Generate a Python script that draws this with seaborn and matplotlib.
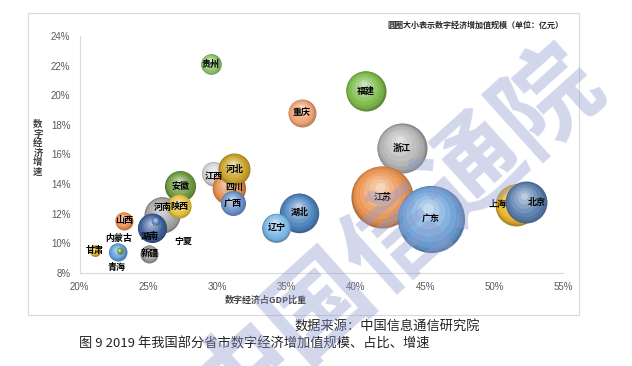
import matplotlib
matplotlib.use("Agg")
import matplotlib.pyplot as plt
import matplotlib.colors as mcolors
from matplotlib.patches import Rectangle
from matplotlib.transforms import offset_copy
import seaborn as sns
import pandas as pd
import numpy as np

# ---- data ----
provinces = ["福建", "浙江", "江苏", "广东", "重庆", "湖北", "辽宁", "贵州",
             "江西", "四川", "河北", "广西", "安徽", "河南", "陕西", "湖南",
             "宁夏", "山西", "内蒙古", "青海", "甘肃", "新疆", "上海", "北京"]
share = [40.7, 43.3, 41.9, 45.4, 36.1, 35.9, 34.25, 29.5,
         29.7, 30.8, 31.2, 31.1, 27.3, 26.0, 27.2, 25.25,
         25.5, 23.2, 22.75, 22.9, 21.1, 25.05, 51.6, 52.3]          # 数字经济占GDP比重 %
growth = [20.3, 16.4, 13.1, 11.65, 18.8, 12.05, 11.05, 22.1,
          14.7, 13.7, 15.0, 12.7, 13.85, 11.9, 12.5, 11.05,
          11.5, 11.5, 9.4, 9.5, 9.5, 9.27, 12.6, 12.75]             # 数字经济增速 %
scale = [16000, 25000, 38500, 45000, 7800, 15500, 8200, 4200,
         5800, 10900, 10200, 6200, 9600, 13000, 5800, 8400,
         640, 3200, 3200, 360, 1200, 3200, 17500, 17500]            # 亿元

x_ticks = [20, 25, 30, 35, 40, 45, 50, 55]
y_ticks = [8, 10, 12, 14, 16, 18, 20, 22, 24]

# ---- styles ----
colors = {
    "福建": "#7dbb4c", "浙江": "#b4b4b4", "江苏": "#ec9552", "广东": "#6ea3d8",
    "重庆": "#eda274", "湖北": "#4d83bd", "辽宁": "#7cb8e6", "贵州": "#8dc46a",
    "江西": "#d2d2d2", "四川": "#e48e4c", "河北": "#c9a22a", "广西": "#6d93cc",
    "安徽": "#6c9a3e", "河南": "#a5a5a5", "陕西": "#e3c13e", "湖南": "#3d5f98",
    "宁夏": "#5a86c0", "山西": "#ec8f4e", "内蒙古": "#5e9fd9", "青海": "#6fa63c",
    "甘肃": "#e3b52c", "新疆": "#9a9a9a", "上海": "#e9b62d", "北京": "#5b7fae",
}
label_offsets = {  # points
    "河南": (0, 5.5), "湖南": (-1.5, -6), "内蒙古": (0.7, 10), "青海": (-2, -12.5),
    "宁夏": (20, -14.5), "上海": (-13.5, 0), "北京": (8, 0), "江西": (0, -2),
    "四川": (4, 0.5),
}

VMAX = 45000
SMAX = 2340  # marker area (pt^2) for VMAX

# (radius fraction, dx, dy in radius units, shade)
layers = [(1.00, 0.00, 0.00, -0.26), (0.96, -0.02, 0.03, -0.15),
          (0.90, -0.04, 0.06, -0.06), (0.80, -0.06, 0.10, 0.03),
          (0.66, -0.08, 0.15, 0.16), (0.50, -0.09, 0.20, 0.30),
          (0.33, -0.09, 0.26, 0.44), (0.16, -0.08, 0.33, 0.60)]


def shade(c, t):
    rgb = np.array(mcolors.to_rgb(c))
    if t < 0:
        return tuple(rgb * (1 + t))
    return tuple(rgb + (1 - rgb) * t)


sns.set_style("white")
plt.rcParams["font.family"] = ["Liberation Sans", "Noto Sans CJK SC", "DejaVu Sans"]
CJK = ["Noto Sans CJK SC", "DejaVu Sans"]

df = pd.DataFrame({"province": provinces, "share": share, "growth": growth, "scale": scale})

fig = plt.figure(figsize=(6.32, 3.66), dpi=100)
ax = fig.add_axes([0.1258, 0.2549, 0.7655, 0.6467])

for i, row in df.iterrows():
    one = df.iloc[[i]]
    r_pt = np.sqrt(row["scale"] / VMAX * SMAX) / 2
    for rf, dx, dy, t in layers:
        tr = offset_copy(ax.transData, fig=fig, x=dx * r_pt, y=dy * r_pt, units="points")
        sns.scatterplot(data=one, x="share", y="growth", size="scale",
                        sizes=(0, SMAX * rf ** 2), size_norm=(0, VMAX),
                        color=shade(colors[row["province"]], t), linewidth=0,
                        legend=False, ax=ax, zorder=3 + i * 0.1, transform=tr,
                        clip_on=False)

for _, row in df.iterrows():
    ox, oy = label_offsets.get(row["province"], (0, 0))
    ax.annotate(row["province"], (row["share"], row["growth"]), xytext=(ox, oy),
                textcoords="offset points", ha="center", va="center",
                fontsize=6.5, fontweight="bold", color="black", zorder=50, family=CJK)

ax.set_xlim(20, 55)
ax.set_ylim(8, 24)
ax.set_xticks(x_ticks)
ax.set_yticks(y_ticks)
ax.set_xticklabels([f"{v}%" for v in x_ticks])
ax.set_yticklabels([f"{v}%" for v in y_ticks])
ax.tick_params(length=0, labelsize=7, colors="#595959", pad=6.5)
ax.set_xlabel("")
ax.set_ylabel("")
for side in ["top", "right"]:
    ax.spines[side].set_visible(False)
for side in ["left", "bottom"]:
    ax.spines[side].set_color("#d9d9d9")
    ax.spines[side].set_linewidth(0.8)

# axis titles
fig.text(266 / 632, 1 - 300 / 366, "数字经济占GDP比重", ha="center", va="center",
         fontsize=6.5, fontweight="bold", color="#404040", family=CJK)
fig.text(38 / 632, 1 - 148 / 366, "\n".join("数字经济增速"), ha="center", va="center",
         fontsize=6.8, fontweight="bold", color="#404040", linespacing=0.95, family=CJK)
fig.text(563 / 632, 1 - 25 / 366, "圆圈大小表示数字经济增加值规模（单位：亿元）",
         ha="right", va="center", fontsize=5.8, fontweight="bold", color="#262626",
         family=CJK)

# chart border
fig.add_artist(Rectangle((28 / 632, 1 - 315 / 366), 551 / 632, 302 / 366,
                         transform=fig.transFigure, fill=False, ec="#d9d9d9", lw=0.8))

# captions
fig.text(480 / 632, 1 - 327 / 366, "数据来源：中国信息通信研究院", ha="right", va="center",
         fontsize=9.5, color="#222222", family=CJK)
fig.text(79 / 632, 1 - 344 / 366, "图 9 2019 年我国部分省市数字经济增加值规模、占比、增速",
         ha="left", va="center", fontsize=9.5, color="#222222", family=CJK)

# watermark
fig.text(396 / 632, 1 - 236 / 366, "中国信通院", ha="center", va="center",
         rotation=42, rotation_mode="anchor", fontsize=74, fontweight="bold",
         color="#8f9bd0", alpha=0.40, zorder=100, family=CJK)

fig.savefig("out.png", dpi=100)
